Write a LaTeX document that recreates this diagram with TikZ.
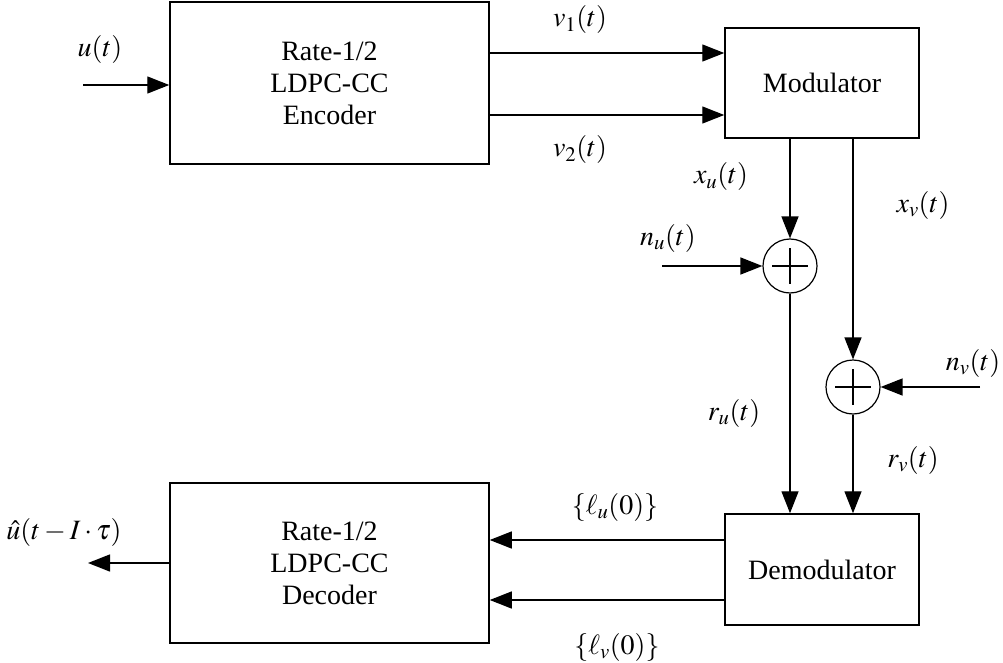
\documentclass[tikz,border=0pt]{standalone}
\usepackage{mathptmx}
\usepackage{fontspec}
\setmainfont{Liberation Serif}
\usetikzlibrary{arrows.meta}
\begin{document}
\begin{tikzpicture}[x=1pt,y=-1pt,
  every node/.style={font=\fontsize{28}{32}\selectfont},
  blk/.style={draw,line width=1.5pt,inner sep=0pt,align=center},
  summer/.style={draw,circle,line width=1.2pt,minimum size=54pt,inner sep=0pt},
  conn/.style={line width=1.4pt,-{Triangle[length=22pt,width=17pt]}},
  lbl/.style={inner sep=0pt}]
\useasboundingbox (0,0) rectangle (1003,663);
% blocks
\node[blk,minimum width=319pt,minimum height=162pt] (enc) at (329.5,83) {Rate-1/2\\LDPC-CC\\Encoder};
\node[blk,minimum width=194pt,minimum height=110pt] (mod) at (822,83) {Modulator};
\node[summer] (add1) at (790,266) {};
\node[summer] (add2) at (853,387) {};
\node[blk,minimum width=194pt,minimum height=111pt] (demod) at (822,569.5) {Demodulator};
\node[blk,minimum width=319pt,minimum height=160pt] (dec) at (329.5,563) {Rate-1/2\\LDPC-CC\\Decoder};
% plus signs
\foreach \s in {add1,add2}{
  \draw[line width=1.4pt] (\s.center) ++(-18,0) -- ++(36,0);
  \draw[line width=1.4pt] (\s.center) ++(0,-18) -- ++(0,36);
}
% free ends
\coordinate (uin) at (83,85);
\coordinate (nuin) at (662,266);
\coordinate (nvin) at (980,387);
\coordinate (uout) at (88,563);
\coordinate (y1) at (0,53);
\coordinate (y2) at (0,115);
\coordinate (y3) at (0,540);
\coordinate (y4) at (0,600);
% connectors
\draw[conn] (uin) -- (uin -| enc.west);
\draw[conn] (enc.east |- y1) -- (mod.west |- y1);
\draw[conn] (enc.east |- y2) -- (mod.west |- y2);
\draw[conn] (add1 |- mod.south) -- (add1.north);
\draw[conn] (add2 |- mod.south) -- (add2.north);
\draw[conn] (nuin) -- (add1.west);
\draw[conn] (nvin) -- (add2.east);
\draw[conn] (add1.south) -- (add1 |- demod.north);
\draw[conn] (add2.south) -- (add2 |- demod.north);
\draw[conn] (demod.west |- y3) -- (dec.east |- y3);
\draw[conn] (demod.west |- y4) -- (dec.east |- y4);
\draw[conn] (dec.west |- uout) -- (uout);
% labels
\node[lbl] (lu) at (100,50) {$u(t)$};
\node[lbl] (lv1) at (580,20) {$v_1(t)$};
\node[lbl] (lv2) at (580,150) {$v_2(t)$};
\node[lbl] (lxu) at (721,177) {$x_u(t)$};
\node[lbl] (lxv) at (923,205) {$x_v(t)$};
\node[lbl] (lnu) at (668,238) {$n_u(t)$};
\node[lbl] (lnv) at (973,363) {$n_v(t)$};
\node[lbl] (lru) at (734,413) {$r_u(t)$};
\node[lbl] (lrv) at (913,460) {$r_v(t)$};
\node[lbl] (llu) at (615,507) {$\{\ell_u(0)\}$};
\node[lbl] (llv) at (617,647) {$\{\ell_v(0)\}$};
\node[lbl] (luhat) at (64,532) {$\hat{u}(t-I\cdot\tau)$};
\end{tikzpicture}
\end{document}
